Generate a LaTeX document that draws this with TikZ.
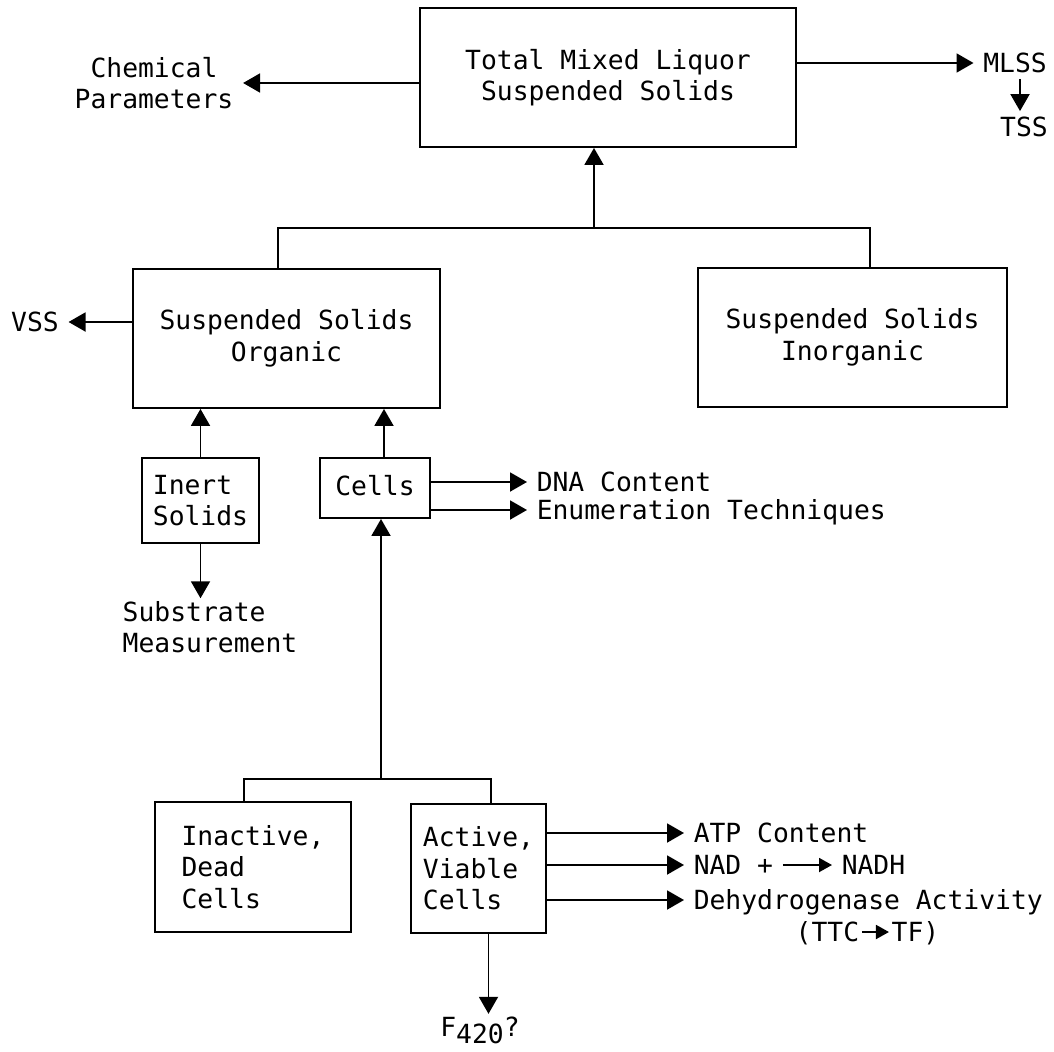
\documentclass[tikz,border=0pt]{standalone}
\usepackage{fontspec}
\newfontfamily\typew{DejaVu Sans Mono}
\newcommand{\tfont}{\typew\fontsize{15}{18}\selectfont}
\usetikzlibrary{arrows.meta,positioning,calc}

\begin{document}
\begin{tikzpicture}[
  x=0.02cm, y=-0.02cm, line width=1.1pt,
  box/.style={draw, line width=1.1pt, align=center, font=\tfont, inner sep=0pt},
  lbl/.style={font=\tfont, inner xsep=5pt, inner ysep=1pt},
  tag/.style={font=\tfont, inner xsep=5pt, inner ysep=0pt, text height=14pt, text depth=3pt},
  arr/.style={-{Triangle[length=3.4mm,width=3.8mm]}, line width=1.1pt},
  sarr/.style={-{Triangle[length=2.6mm,width=2.8mm]}, line width=1.1pt}
]
\useasboundingbox (0,0) rectangle (1054,1051);

% boxes
\node[box, minimum width=7.52cm, minimum height=2.78cm] (tmlss) at (608,77.5) {Total Mixed Liquor\\Suspended Solids};
\node[box, minimum width=6.14cm, minimum height=2.78cm] (org) at (286.5,338.5) {Suspended Solids\\Organic};
\node[box, minimum width=6.18cm, minimum height=2.78cm] (inorg) at (852.5,337.5) {Suspended Solids\\Inorganic};
\node[box, align=left, minimum width=2.34cm, minimum height=1.7cm] (inert) at (200.5,500.5) {Inert\\Solids};
\node[box, minimum width=2.2cm, minimum height=1.2cm] (cells) at (375,488) {\raisebox{0.12cm}{Cells}};
\node[box, align=left, minimum width=3.92cm, minimum height=2.6cm] (inactive) at (253,867) {Inactive,\\Dead\\Cells};
\node[box, align=left, minimum width=2.7cm, minimum height=2.58cm] (active) at (478.5,868.5) {Active,\\Viable\\Cells};

% labels
\node[lbl, align=center] (chem) at (154,83) {Chemical\\Parameters};
\node[tag] (mlss) at (1015,63) {MLSS};
\node[tag] (tss) at (1024,127) {TSS};
\node[tag] (vss) at (35,322) {VSS};
\node[lbl, align=left] (subst) at (210,627) {Substrate\\Measurement};
\node[tag, anchor=west] (dna) at (527,482) {DNA Content};
\node[tag, anchor=west] (enum) at (527,510) {Enumeration Techniques};
\node[tag, anchor=west] (atp) at (684,833) {ATP Content};
\node[tag, anchor=west] (nad) at (684,865) {NAD +};
\node[tag, anchor=west] (nadh) at (832,865) {NADH};
\node[tag, anchor=west] (dehyd) at (684,900) {Dehydrogenase Activity};
\node[tag, anchor=west, inner xsep=1pt] (ttc) at (793,932) {(TTC};
\node[tag, anchor=east, inner xsep=1pt] (tf) at (942,932) {TF)};
\node[lbl] (f420) at (480,1030) {F\raisebox{-1.4mm}{420}?};

\coordinate (j1) at (594,228);
\coordinate (j2) at (381,779);

% connectors
\draw[arr] (tmlss.west |- chem) -- (chem.east);
\draw[arr] (tmlss.east |- mlss) -- (mlss.west);
\draw[arr] ([xshift=0.1cm]mlss.south) -- ([xshift=0.1cm]mlss.south |- tss.north);
\draw ([xshift=-0.17cm]org.north) |- (j1) -| ([xshift=0.35cm]inorg.north);
\draw[arr] (j1) -- (j1 |- tmlss.south);
\draw[arr] (org.west |- vss) -- (vss.east);
\draw[arr] (inert.north) -- (inert.north |- org.south);
\draw[arr] (inert.south) -- (inert.south |- subst.north);
\draw[arr] ([xshift=0.18cm]cells.north) -- ([xshift=0.18cm]cells.north |- org.south);
\draw[arr] (cells.east |- dna) -- (dna.west);
\draw[arr] (cells.east |- enum) -- (enum.west);
\draw ([xshift=-0.18cm]inactive.north) |- (j2) -| ([xshift=0.25cm]active.north);
\draw[arr] (j2) -- (j2 |- cells.south);
\draw[arr] (active.east |- atp) -- (atp.west);
\draw[arr] (active.east |- nad) -- (nad.west);
\draw[arr] (active.east |- dehyd) -- (dehyd.west);
\draw[sarr] (nad) -- (nadh);
\draw[sarr] (ttc) -- (tf);
\draw[arr] ([xshift=0.2cm]active.south) -- ([xshift=0.2cm]active.south |- f420.north);
\end{tikzpicture}
\end{document}
